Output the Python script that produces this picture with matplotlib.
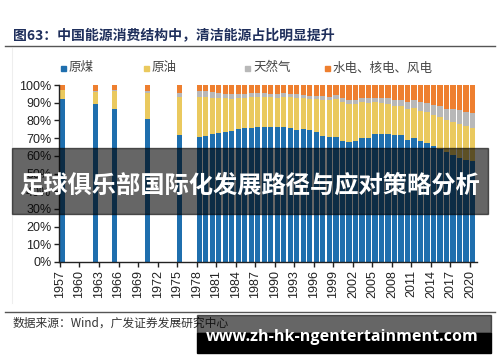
import matplotlib
matplotlib.use('Agg')
import matplotlib.pyplot as plt
from matplotlib.patches import Rectangle
from matplotlib.lines import Line2D

plt.rcParams['font.family'] = ['Liberation Sans', 'Noto Sans CJK SC']

years = [1957, 1962, 1965, 1970, 1975] + list(range(1978, 2021))
coal = [92.3, 89.2, 86.5, 80.9, 71.9,
        70.7, 71.3, 72.2, 72.7, 73.7, 74.2, 75.3, 75.8, 75.8, 76.2,
        76.2, 76.0, 76.2, 76.1, 75.7, 74.7, 75.0, 74.6, 73.5, 71.4,
        70.9, 70.6, 68.5, 68.0, 68.5, 70.2, 70.2, 72.4, 72.4, 72.5,
        71.5, 71.6, 69.2, 70.2, 68.5, 67.4, 65.6, 63.7, 62.0, 60.4,
        59.0, 57.7, 56.8]
oil = [4.6, 6.6, 10.3, 14.7, 21.1,
       22.7, 21.8, 20.7, 20.0, 18.9, 18.1, 17.4, 17.1, 17.2, 17.0,
       17.0, 17.1, 16.6, 17.1, 17.5, 18.2, 17.4, 17.5, 18.7, 20.4,
       20.8, 21.5, 22.0, 21.2, 21.0, 20.1, 19.9, 17.8, 17.5, 17.0,
       16.7, 16.4, 17.4, 16.8, 17.0, 17.1, 17.4, 18.3, 18.5, 18.8,
       18.9, 19.0, 18.9]
gas = [0.1, 0.9, 0.6, 0.9, 2.5,
       3.2, 3.3, 3.1, 2.8, 2.5, 2.4, 2.4, 2.2, 2.3, 2.1,
       2.1, 2.0, 2.1, 2.0, 1.9, 1.9, 1.9, 1.8, 1.8, 1.8,
       1.8, 2.0, 2.2, 2.4, 2.3, 2.3, 2.3, 2.4, 2.7, 3.0,
       3.4, 3.5, 4.0, 4.6, 4.8, 5.3, 5.7, 5.9, 6.2, 7.0,
       7.8, 8.0, 8.4]
clean = [100 - a - b - c for a, b, c in zip(coal, oil, gas)]

names = ['原煤', '原油', '天然气', '水电、核电、风电']
colors = ['#1f6fae', '#eac95e', '#b8b8b8', '#ee7f2f']
tick_years = list(range(1957, 2021, 3))

W, H = 500, 362
fig = plt.figure(figsize=(W / 100, H / 100), dpi=100)


def fx(x):
    return x / W


def fy(y):
    return 1 - y / H


ax = fig.add_axes([fx(59), fy(262), fx(477) - fx(59), fy(85) - fy(262)])

bottom = [0] * len(years)
for vals, nm, col in zip([coal, oil, gas, clean], names, colors):
    ax.bar(years, [v / 100 for v in vals], bottom=bottom, width=0.8,
           align='edge', color=col, linewidth=0, label=nm)
    bottom = [b + v / 100 for b, v in zip(bottom, vals)]

ax.set_xlim(1956.85, 2021.08)
ax.set_ylim(0, 1)
ax.set_yticks([i / 10 for i in range(11)])
ax.set_yticklabels(['%d%%' % (i * 10) for i in range(11)], fontsize=9)
ax.set_xticks(tick_years)
ax.set_xticklabels([str(y) for y in tick_years], rotation=90, fontsize=9)
ax.tick_params(axis='both', direction='out', length=3.5, width=1,
               color='#222222', labelcolor='#222222', pad=2)
for s in ['top', 'right']:
    ax.spines[s].set_visible(False)
for s in ['left', 'bottom']:
    ax.spines[s].set_color('#222222')
    ax.spines[s].set_linewidth(1)

# legend
leg_x = [61, 144, 245, 325]
for x0, nm, col in zip(leg_x, names, colors):
    fig.patches.append(Rectangle((fx(x0), fy(71)), fx(5), 5 / H,
                                 transform=fig.transFigure, color=col))
    fig.text(fx(x0 + 8), fy(68), nm, fontsize=9, color='#444444',
             family='Noto Sans CJK SC', va='center', ha='left')

# title and rules
fig.text(fx(13), fy(35), '图63：中国能源消费结构中，清洁能源占比明显提升',
         fontsize=10, fontweight='bold', color='#1f2f5c',
         family='Noto Sans CJK SC', va='center', ha='left')
fig.lines.append(Line2D([fx(5), fx(495)], [fy(46), fy(46)],
                        transform=fig.transFigure, color='#555555', lw=1))
fig.lines.append(Line2D([fx(5), fx(495)], [fy(312), fy(312)],
                        transform=fig.transFigure, color='#555555', lw=1))
fig.lines.append(Line2D([fx(12), fx(12)], [fy(48), fy(303)],
                        transform=fig.transFigure, color='#eeeeee', lw=0.8))
fig.text(fx(13), fy(323), '数据来源：Wind，广发证券发展研究中心',
         fontsize=8.5, color='#333333', family='Noto Sans CJK SC',
         va='center', ha='left')

# watermark overlays
fig.patches.append(Rectangle((fx(12), fy(214)), fx(476), 66 / H,
                             transform=fig.transFigure, color='black',
                             alpha=0.6, zorder=10))
fig.text(fx(250), fy(186), '足球俱乐部国际化发展路径与应对策略分析',
         fontsize=17.5, fontweight='bold', color='white',
         family='Noto Sans CJK SC', va='center', ha='center', zorder=11)
fig.patches.append(Rectangle((fx(197), fy(333)), fx(294), 18 / H,
                             transform=fig.transFigure, color='black',
                             alpha=0.6, zorder=10))
fig.patches.append(Rectangle((fx(197), fy(353)), fx(294), 20 / H,
                             transform=fig.transFigure, color='black',
                             zorder=10))
fig.text(fx(342), fy(337), 'www.zh-hk-ngentertainment.com',
         fontsize=11.6, fontweight='bold', color='white',
         family='Open Sans', va='center', ha='center', zorder=11)

fig.savefig('out.png', dpi=100)
